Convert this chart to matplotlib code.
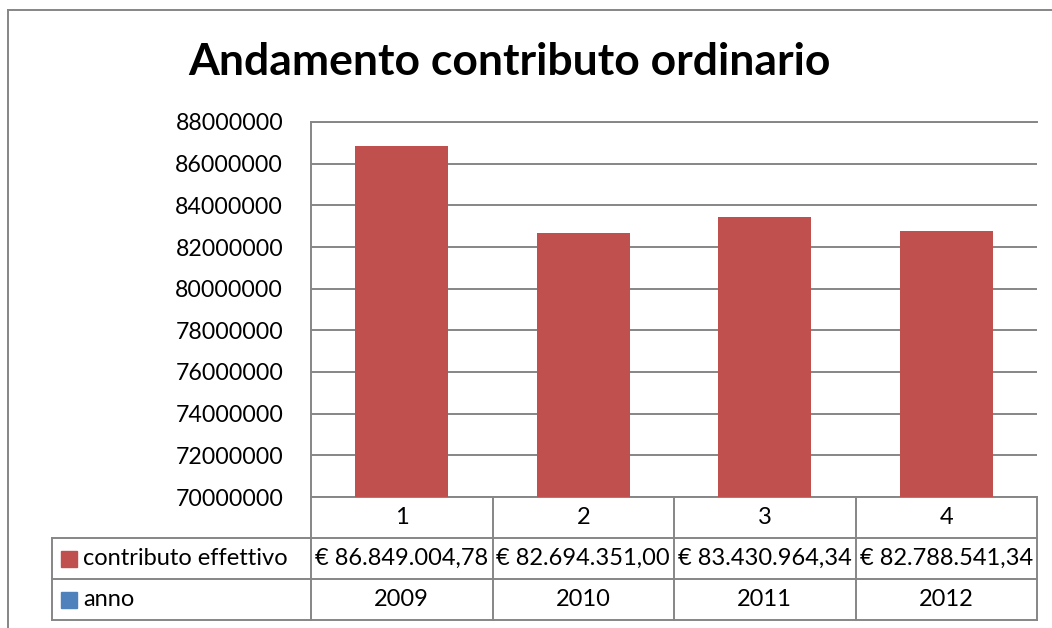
import numpy as np
import matplotlib.pyplot as plt
from matplotlib.lines import Line2D
from matplotlib.patches import Rectangle

# data
categories = ["1", "2", "3", "4"]
contributo = [86849004.78, 82694351.00, 83430964.34, 82788541.34]
contributo_labels = ["€ 86.849.004,78", "€ 82.694.351,00", "€ 83.430.964,34", "€ 82.788.541,34"]
anni = ["2009", "2010", "2011", "2012"]
yticks = np.arange(70000000, 88000001, 2000000)

RED = "#C0504D"
BLUE = "#4F81BD"
GRID = "#868686"
W, H = 1052, 628

plt.rcParams['font.family'] = ['Lato', 'DejaVu Sans']

fig = plt.figure(figsize=(W / 100, H / 100), dpi=100)

def fx(px):
    return px / W

def fy(py):
    return 1 - py / H

# outer chart frame (top and left visible)
fig.add_artist(Line2D([fx(8), 1.0], [fy(10), fy(10)], color=GRID, lw=1.4))
fig.add_artist(Line2D([fx(8), fx(8)], [fy(10), 0.0], color=GRID, lw=1.4))

fig.text(fx(509), fy(75), "Andamento contributo ordinario", ha="center", va="baseline",
         fontsize=32, fontweight="bold")

# bar area
ax = fig.add_axes([fx(311), fy(497), fx(1037) - fx(311), fy(122) - fy(497)])
x = np.arange(len(categories))
ax.bar(x, np.array(contributo) - 70000000, bottom=70000000, width=0.51, color=RED, zorder=3)
ax.set_xlim(-0.5, len(categories) - 0.5)
ax.set_ylim(70000000, 88000000)
ax.set_yticks(yticks)
ax.set_yticklabels([str(v) for v in yticks], fontsize=16.7)
ax.tick_params(axis="y", length=0, pad=20)
ax.set_xticks([])
ax.grid(axis="y", color=GRID, lw=1.4, zorder=0)
for side in ["left", "top", "right", "bottom"]:
    ax.spines[side].set_color(GRID)
    ax.spines[side].set_linewidth(1.4)
ax.spines["right"].set_visible(False)

# data table below the bars
tab = fig.add_axes([fx(52), fy(620), fx(1037) - fx(52), fy(497) - fy(620)])
head_w = (311 - 52) / ((1037 - 311) / len(categories))
x0 = -0.5 - head_w
tab.set_xlim(x0, len(categories) - 0.5)
tab.set_ylim(0, 3)
tab.axis("off")

lkw = dict(color=GRID, lw=1.4, clip_on=False)
# horizontal lines
tab.plot([x0, len(categories) - 0.5], [2, 2], **lkw)
tab.plot([x0, len(categories) - 0.5], [1, 1], **lkw)
tab.plot([x0, len(categories) - 0.5], [0, 0], **lkw)
# vertical lines
tab.plot([x0, x0], [0, 2], **lkw)
for b in np.arange(len(categories) + 1) - 0.5:
    tab.plot([b, b], [0, 3], **lkw)

fs = 17
for i in range(len(categories)):
    tab.text(i, 2.5, categories[i], ha="center", va="center", fontsize=fs)
    tab.text(i, 1.5, contributo_labels[i], ha="center", va="center", fontsize=fs)
    tab.text(i, 0.5, anni[i], ha="center", va="center", fontsize=fs)

# legend keys in the row headers
kw = (77 - 61) / ((1037 - 311) / len(categories))
kh = 16 / 41
tab.add_patch(Rectangle((x0 + 0.05, 1.5 - kh / 2), kw, kh, color=RED))
tab.add_patch(Rectangle((x0 + 0.05, 0.5 - kh / 2), kw, kh, color=BLUE))
tab.text(x0 + 0.17, 1.5, "contributo effettivo", ha="left", va="center", fontsize=fs)
tab.text(x0 + 0.17, 0.5, "anno", ha="left", va="center", fontsize=fs)

fig.savefig("out.png", dpi=100)
